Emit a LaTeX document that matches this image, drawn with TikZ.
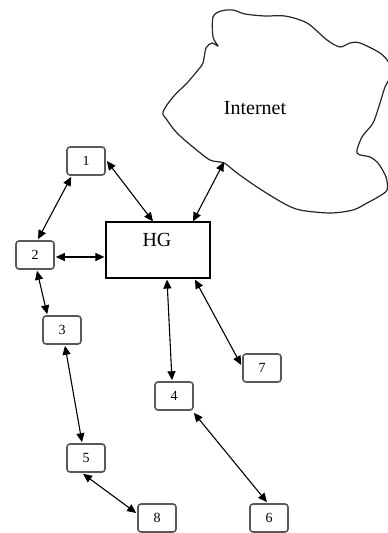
\documentclass[tikz,border=0pt]{standalone}
\usepackage{fontspec}
\setmainfont{Liberation Serif}
\usetikzlibrary{arrows.meta,calc}

\begin{document}
\begin{tikzpicture}[
  x=1pt, y=-1pt,
  hostbox/.style={draw=black!65, line width=1.6pt, rounded corners=3pt,
    minimum width=38pt, minimum height=28pt, inner sep=0pt,
    font=\fontsize{14}{16}\selectfont},
  gateway/.style={draw=black, line width=1.2pt, minimum width=104pt,
    minimum height=56pt, inner sep=0pt},
  link/.style={line width=1.1pt, {Triangle[length=9pt,width=8pt]}-{Triangle[length=9pt,width=8pt]}},
  cloudline/.style={draw=black!85, line width=1.2pt, line join=round},
]
\useasboundingbox (0,0) rectangle (388,533);

% Internet cloud
\begin{scope}
\clip (0,0) rectangle (388,533);
\draw[cloudline] plot[smooth cycle, tension=0.5] coordinates {
  (221,11) (233,10) (245,14) (265,16) (285,16) (307,23) (327,40) (340,47)
  (350,43) (360,43) (380,53) (389,63) (391,75) (385,87) (380,103) (373,123)
  (362,137) (357,153) (370,157) (378,163) (386,177) (387,190) (378,197)
  (367,203) (353,210) (330,213) (300,210) (283,203) (257,187) (237,173)
  (224,163) (210,160) (193,147) (177,133) (167,120) (163,112) (173,97)
  (187,83) (198,70) (203,63) (206,48) (212,43) (218,46) (213,37) (213,17)};
\end{scope}
\node[font=\fontsize{20}{24}\selectfont] (inettext) at (255,108) {Internet};
\coordinate (inet) at (224,162);

% Home gateway
\node[gateway] (hg) at (158,250) {};
\node[font=\fontsize{20}{24}\selectfont] (hgtext) at (157,240) {HG};

% Hosts
\node[hostbox] (n1) at (86,161) {1};
\node[hostbox] (n2) at (35,255) {2};
\node[hostbox] (n3) at (62,330) {3};
\node[hostbox] (n4) at (174,396) {4};
\node[hostbox] (n5) at (86,458) {5};
\node[hostbox] (n6) at (269,518) {6};
\node[hostbox] (n7) at (262,368) {7};
\node[hostbox] (n8) at (157,518) {8};

% Links
\draw[link] ($(n1.south west)+(5,1)$) -- ($(n2.north)+(3,-1)$);
\draw[link] ($(n1.east)+(1,0)$) -- ($(hg.north)+(-5,0)$);
\draw[link] (inet) -- ($(hg.north)+(35,0)$);
\draw[link] ($(n2.east)+(1,2)$) -- ($(n2.east -| hg.west)+(-1,2)$);
\draw[link] ($(n2.south)+(2,1)$) -- ($(n3.north west)+(5,-1)$);
\draw[link] ($(hg.south)+(9,1)$) -- ($(n4.north)+(-2,-1)$);
\draw[link] ($(hg.south)+(37,1)$) -- ($(n7.west)+(-1,-3)$);
\draw[link] ($(n3.south)+(3,1)$) -- ($(n5.north)+(-4,-1)$);
\draw[link] ($(n4.south east)+(0,2)$) -- ($(n6.north)+(-2,-1)$);
\draw[link] ($(n5.south)+(-3,1)$) -- ($(n8.west)+(-1,-5)$);
\end{tikzpicture}
\end{document}
